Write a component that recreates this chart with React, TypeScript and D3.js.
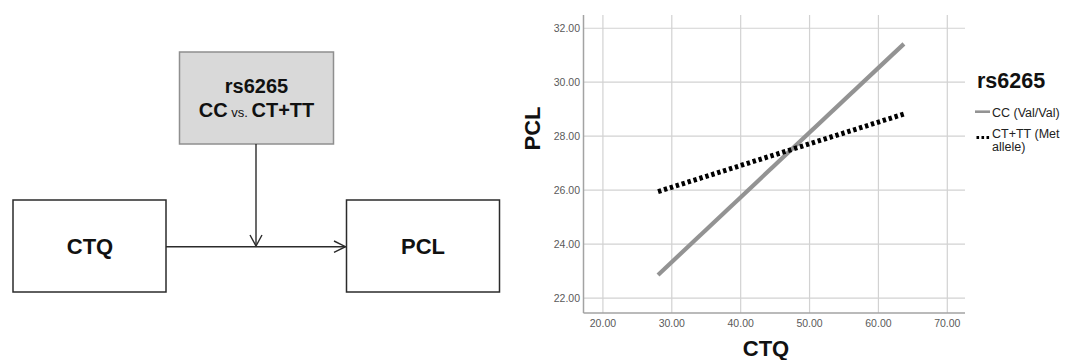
import React from 'react';
import * as d3 from 'd3';

// moderation diagram labels
const moderatorTitle = 'rs6265';
const predictorLabel = 'CTQ';
const outcomeLabel = 'PCL';

// interaction plot data (CTQ range vs predicted PCL)
const ctqPoints = [28.0, 63.7];
const ccValues = [22.86, 31.42];
const ctValues = [25.95, 28.82];
const seriesNames = ['CC (Val/Val)', 'CT+TT (Met allele)'];
const xTicks = [20, 30, 40, 50, 60, 70];
const yTicks = [22, 24, 26, 28, 30, 32];

const font = '"Liberation Sans", Arial, sans-serif';

const Diagram = () => {
  const stroke = '#2b2b2b';
  return (
    <g fontFamily={font} fontWeight="bold" fill="#111">
      {/* moderator box */}
      <rect x={179.5} y={52} width={154} height={92} fill="#d9d9d9" stroke="#8f8f8f" strokeWidth={1.5} />
      <text x={256.5} y={93} textAnchor="middle" fontSize={20}>{moderatorTitle}</text>
      <text x={256.5} y={117} textAnchor="middle" fontSize={20}>
        CC<tspan fontSize={13} fontWeight="normal"> vs. </tspan>CT+TT
      </text>

      {/* predictor / outcome boxes */}
      <rect x={13} y={200} width={153} height={92} fill="#fff" stroke={stroke} strokeWidth={1.5} />
      <text x={90} y={254} textAnchor="middle" fontSize={22}>{predictorLabel}</text>
      <rect x={346.5} y={200} width={153} height={92} fill="#fff" stroke={stroke} strokeWidth={1.5} />
      <text x={423} y={254} textAnchor="middle" fontSize={22}>{outcomeLabel}</text>

      {/* arrows */}
      <g stroke={stroke} strokeWidth={1.4} fill="none">
        <line x1={256} y1={144} x2={256} y2={246} />
        <polyline points="250,235 256,246 262,235" />
        <line x1={166} y1={246.7} x2={345.5} y2={246.7} />
        <polyline points="334,241 345.5,246.7 334,252.4" />
      </g>
    </g>
  );
};

const InteractionPlot = () => {
  const left = 583.5;
  const right = 965;
  const top = 15;
  const bottom = 313;

  const x = d3.scaleLinear().domain([17.18, 72.57]).range([left, right]);
  const y = d3.scaleLinear().domain([21.45, 32.49]).range([bottom, top]);

  const line = d3.line<[number, number]>()
    .x((d) => x(d[0]))
    .y((d) => y(d[1]));

  const ccPath = line(ctqPoints.map((c, i) => [c, ccValues[i]] as [number, number]));
  const ctPath = line(ctqPoints.map((c, i) => [c, ctValues[i]] as [number, number]));

  return (
    <g fontFamily={font}>
      {/* grid */}
      <g stroke="#d2d2d2" strokeWidth={1.2}>
        {xTicks.map((t) => (
          <line key={'gx' + t} x1={x(t)} x2={x(t)} y1={top} y2={bottom} />
        ))}
        {yTicks.map((t) => (
          <line key={'gy' + t} x1={left} x2={right} y1={y(t)} y2={y(t)} />
        ))}
      </g>
      {/* axes */}
      <g stroke="#a3a3a3" strokeWidth={1.5}>
        <line x1={left} x2={left} y1={top} y2={bottom} />
        <line x1={left} x2={right} y1={bottom} y2={bottom} />
      </g>
      <g fontSize={10.5} fill="#5a5a5a">
        {xTicks.map((t) => (
          <text key={'tx' + t} x={x(t)} y={326.5} textAnchor="middle">{t.toFixed(2)}</text>
        ))}
        {yTicks.map((t) => (
          <text key={'ty' + t} x={580} y={y(t)} dy="0.35em" textAnchor="end">{t.toFixed(2)}</text>
        ))}
      </g>

      {/* series */}
      <path d={ccPath ?? ''} fill="none" stroke="#939393" strokeWidth={4.2} />
      <path d={ctPath ?? ''} fill="none" stroke="#000" strokeWidth={5} strokeDasharray="3.4,2.8" />

      {/* axis titles */}
      <text x={766} y={356} textAnchor="middle" fontSize={22} fontWeight="bold" fill="#111">{predictorLabel}</text>
      <text transform="translate(540,128.5) rotate(-90)" textAnchor="middle" fontSize={22} fontWeight="bold" fill="#111">{outcomeLabel}</text>

      {/* legend */}
      <text x={977} y={88} fontSize={21.5} fontWeight="bold" fill="#111">{moderatorTitle}</text>
      <line x1={975} x2={990} y1={111.7} y2={111.7} stroke="#939393" strokeWidth={2.6} />
      <text x={992} y={116.5} fontSize={12.5} fill="#222">{seriesNames[0]}</text>
      <line x1={976.5} x2={991} y1={137.5} y2={137.5} stroke="#000" strokeWidth={3} strokeDasharray="2.6,2.4" />
      <text x={992} y={138.3} fontSize={12.5} fill="#222">{seriesNames[1].split(' ').slice(0, 2).join(' ')}</text>
      <text x={992} y={150.5} fontSize={12.5} fill="#222">{seriesNames[1].split(' ').slice(2).join(' ')}</text>
    </g>
  );
};

const App = () => (
  <svg
    width={1069}
    height={360}
    style={{ position: 'absolute', left: 0, top: 0, display: 'block', background: '#fff' }}
  >
    <rect width={1069} height={360} fill="#fff" />
    <Diagram />
    <InteractionPlot />
  </svg>
);

export default App;
